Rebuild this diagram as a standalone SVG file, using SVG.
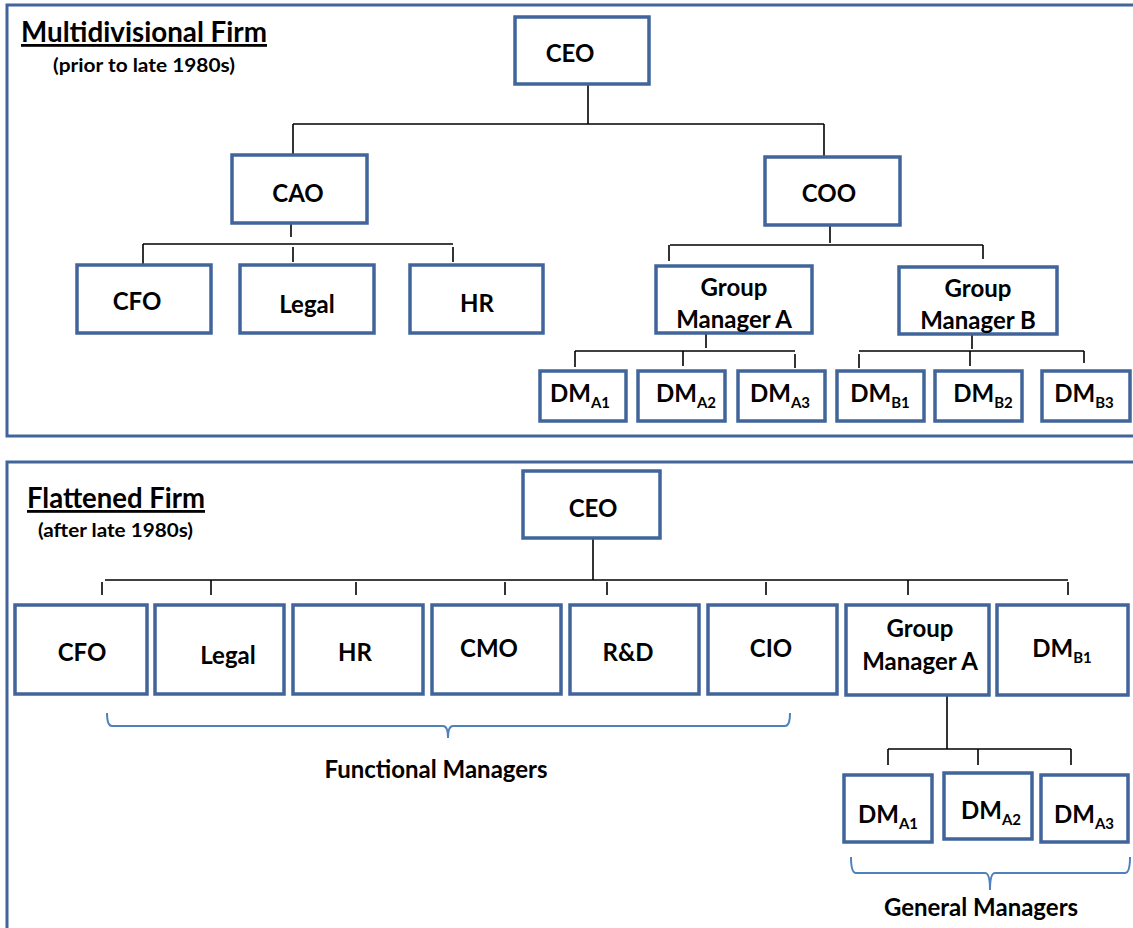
<svg xmlns="http://www.w3.org/2000/svg" width="1133" height="928" viewBox="0 0 1133 928">
<style>
.frame{fill:none;stroke:#41659a;stroke-width:3}
.box{fill:#fff;stroke:#41659a;stroke-width:3.5}
.t{font-family:Lato,"Liberation Sans",sans-serif;font-weight:bold;font-size:24px;fill:#000;text-anchor:middle}
.sub{font-size:15px}
.title{font-family:Lato,"Liberation Sans",sans-serif;font-weight:bold;font-size:28px;fill:#000;text-decoration:underline}
.subt{font-family:Lato,"Liberation Sans",sans-serif;font-weight:bold;font-size:19px;fill:#000}
.c line{stroke:#000;stroke-width:1.6}
.brace{fill:none;stroke:#4f81bd;stroke-width:2}
</style>
<rect class="frame" x="7" y="5" width="1140" height="431"/>
<rect class="frame" x="7" y="462" width="1140" height="500"/>
<text class="title" x="21" y="42" textLength="246" lengthAdjust="spacingAndGlyphs">Multidivisional Firm</text>
<text class="subt" x="53" y="72" textLength="182" lengthAdjust="spacingAndGlyphs">(prior to late 1980s)</text>
<text class="title" x="27" y="508" textLength="178" lengthAdjust="spacingAndGlyphs">Flattened Firm</text>
<text class="subt" x="38" y="537" textLength="155" lengthAdjust="spacingAndGlyphs">(after late 1980s)</text>
<g class="c" id="connectors">
<line x1="588" y1="84" x2="588" y2="124"/>
<line x1="293" y1="124" x2="824" y2="124"/>
<line x1="293" y1="124" x2="293" y2="155"/>
<line x1="824" y1="124" x2="824" y2="157"/>
<line x1="291" y1="223" x2="291" y2="237"/>
<line x1="143" y1="244" x2="453" y2="244"/>
<line x1="143" y1="244" x2="143" y2="264"/>
<line x1="293" y1="247" x2="293" y2="262"/>
<line x1="453" y1="247" x2="453" y2="262"/>
<line x1="830" y1="225" x2="830" y2="243"/>
<line x1="670" y1="245" x2="983" y2="245"/>
<line x1="669" y1="245" x2="669" y2="261"/>
<line x1="983" y1="245" x2="983" y2="259"/>
<line x1="706" y1="333" x2="706" y2="348"/>
<line x1="575" y1="351" x2="795" y2="351"/>
<line x1="575" y1="351" x2="575" y2="367"/>
<line x1="683" y1="351" x2="683" y2="366"/>
<line x1="795" y1="354" x2="795" y2="368"/>
<line x1="972" y1="334" x2="972" y2="349"/>
<line x1="859" y1="351" x2="1084" y2="351"/>
<line x1="859" y1="354" x2="859" y2="368"/>
<line x1="970" y1="351" x2="970" y2="366"/>
<line x1="1084" y1="351" x2="1084" y2="363"/>
<line x1="593" y1="538" x2="593" y2="580"/>
<line x1="105" y1="580" x2="1068" y2="580"/>
<line x1="102" y1="582" x2="102" y2="595"/>
<line x1="211" y1="580" x2="211" y2="595"/>
<line x1="356" y1="582" x2="356" y2="595"/>
<line x1="505" y1="582" x2="505" y2="595"/>
<line x1="607" y1="582" x2="607" y2="595"/>
<line x1="766" y1="582" x2="766" y2="595"/>
<line x1="908" y1="580" x2="908" y2="595"/>
<line x1="1068" y1="582" x2="1068" y2="595"/>
<line x1="947" y1="696" x2="947" y2="749"/>
<line x1="888" y1="749" x2="1071" y2="749"/>
<line x1="888" y1="749" x2="888" y2="765"/>
<line x1="978" y1="749" x2="978" y2="765"/>
<line x1="1071" y1="749" x2="1071" y2="765"/>
</g>
<g id="top-ceo"><rect class="box" x="515" y="17" width="134" height="67"/><text class="t" x="570" y="62">CEO</text></g>
<g id="top-cao"><rect class="box" x="232" y="155" width="135" height="68"/><text class="t" x="298" y="202">CAO</text></g>
<g id="top-coo"><rect class="box" x="765" y="157" width="135" height="68"/><text class="t" x="829" y="202">COO</text></g>
<g id="top-cfo"><rect class="box" x="77" y="265" width="134" height="68"/><text class="t" x="137" y="310">CFO</text></g>
<g id="top-legal"><rect class="box" x="240" y="265" width="134" height="68"/><text class="t" x="307" y="313">Legal</text></g>
<g id="top-hr"><rect class="box" x="410" y="265" width="133" height="68"/><text class="t" x="477" y="312">HR</text></g>
<g id="top-gma"><rect class="box" x="656" y="266" width="156" height="67"/><text class="t" x="734" y="296">Group</text><text class="t" x="734" y="328">Manager A</text></g>
<g id="top-gmb"><rect class="box" x="899" y="267" width="158" height="67"/><text class="t" x="978" y="297">Group</text><text class="t" x="978" y="329">Manager B</text></g>
<g id="top-dma1"><rect class="box" x="540" y="371" width="86" height="50"/><text class="t" x="580" y="402">DM<tspan class="sub" dy="6">A1</tspan></text></g>
<g id="top-dma2"><rect class="box" x="638" y="371" width="87" height="50"/><text class="t" x="686" y="402">DM<tspan class="sub" dy="6">A2</tspan></text></g>
<g id="top-dma3"><rect class="box" x="738" y="371" width="87" height="50"/><text class="t" x="780" y="402">DM<tspan class="sub" dy="6">A3</tspan></text></g>
<g id="top-dmb1"><rect class="box" x="837" y="371" width="87" height="50"/><text class="t" x="880" y="402">DM<tspan class="sub" dy="6">B1</tspan></text></g>
<g id="top-dmb2"><rect class="box" x="935" y="371" width="87" height="50"/><text class="t" x="983" y="402">DM<tspan class="sub" dy="6">B2</tspan></text></g>
<g id="top-dmb3"><rect class="box" x="1042" y="371" width="88" height="50"/><text class="t" x="1084" y="402">DM<tspan class="sub" dy="6">B3</tspan></text></g>
<g id="bot-ceo"><rect class="box" x="523" y="471" width="137" height="67"/><text class="t" x="593" y="517">CEO</text></g>
<g id="bot-cfo"><rect class="box" x="15" y="605" width="132" height="89"/><text class="t" x="82" y="661">CFO</text></g>
<g id="bot-legal"><rect class="box" x="155" y="605" width="129" height="89"/><text class="t" x="228" y="664">Legal</text></g>
<g id="bot-hr"><rect class="box" x="293" y="605" width="130" height="89"/><text class="t" x="355" y="661">HR</text></g>
<g id="bot-cmo"><rect class="box" x="432" y="605" width="129" height="89"/><text class="t" x="489" y="657">CMO</text></g>
<g id="bot-rd"><rect class="box" x="570" y="605" width="129" height="89"/><text class="t" x="628" y="661">R&amp;D</text></g>
<g id="bot-cio"><rect class="box" x="708" y="605" width="129" height="89"/><text class="t" x="771" y="657">CIO</text></g>
<g id="bot-gma"><rect class="box" x="846" y="605" width="143" height="90"/><text class="t" x="920" y="637">Group</text><text class="t" x="920" y="670">Manager A</text></g>
<g id="bot-dmb1"><rect class="box" x="997" y="605" width="131" height="90"/><text class="t" x="1062" y="657">DM<tspan class="sub" dy="6">B1</tspan></text></g>
<g id="bot-dma1"><rect class="box" x="844" y="775" width="88" height="67"/><text class="t" x="888" y="823">DM<tspan class="sub" dy="6">A1</tspan></text></g>
<g id="bot-dma2"><rect class="box" x="944" y="773" width="88" height="66"/><text class="t" x="991" y="819">DM<tspan class="sub" dy="6">A2</tspan></text></g>
<g id="bot-dma3"><rect class="box" x="1041" y="775" width="87" height="67"/><text class="t" x="1084" y="823">DM<tspan class="sub" dy="6">A3</tspan></text></g>
<g id="brace-functional"><path class="brace" d="M107,713 Q107,726 112,726 L443,726 Q448,726 448,738 Q448,726 453,726 L785,726 Q790,726 790,713"/><text class="t" x="436" y="778">Functional Managers</text></g>
<g id="brace-general"><path class="brace" d="M851,857 Q851,873 856,873 L985,873 Q990,873 990,890 Q990,873 995,873 L1125,873 Q1130,873 1130,857"/><text class="t" x="981" y="916">General Managers</text></g>
</svg>
